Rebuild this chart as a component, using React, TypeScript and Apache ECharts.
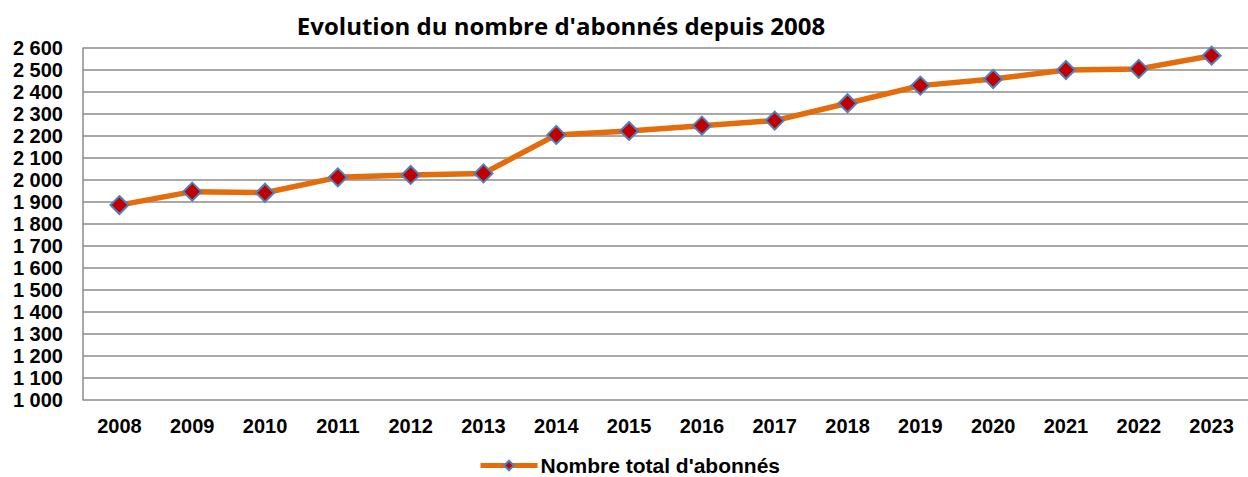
import React, { useEffect, useRef } from "react";
import * as echarts from "echarts";

const years = ["2008","2009","2010","2011","2012","2013","2014","2015","2016","2017","2018","2019","2020","2021","2022","2023"];
const subscribers = [1886, 1947, 1942, 2012, 2023, 2030, 2205, 2223, 2247, 2270, 2349, 2429, 2459, 2500, 2505, 2565];
const seriesName = "Nombre total d'abonnés";
const titleText = "Evolution du nombre d'abonnés depuis 2008";

export default function App() {
  const ref = useRef<HTMLDivElement>(null);
  useEffect(() => {
    if (!ref.current) return;
    const chart = echarts.init(ref.current, null, { renderer: "svg" });
    chart.setOption({
      animation: false,
      backgroundColor: "#ffffff",
      title: {
        text: titleText,
        left: 556,
        top: 8,
        textAlign: "center",
        textStyle: { fontFamily: "Open Sans", fontWeight: "bold", fontSize: 24, color: "#000" },
      },
      legend: {
        data: [seriesName],
        top: 455,
        left: 478,
        padding: 0,
        itemWidth: 57,
        itemHeight: 12,
        itemGap: 4,
        lineStyle: { width: 5 },
        textStyle: { fontFamily: "Liberation Sans", fontWeight: "bold", fontSize: 21, color: "#000", padding: [0, 0, 0, -2] },
      },
      grid: { left: 83, top: 48, width: 1173, height: 352, containLabel: false },
      xAxis: {
        type: "category",
        data: years,
        boundaryGap: true,
        axisLine: { show: false },
        axisTick: { show: false },
        axisLabel: { fontFamily: "Liberation Sans", fontWeight: "bold", fontSize: 20, color: "#000", margin: 16 },
      },
      yAxis: {
        type: "value",
        min: 1000,
        max: 2600,
        interval: 100,
        axisLine: { show: true, lineStyle: { color: "#8c8c8c", width: 1.5 } },
        axisTick: { show: false },
        splitLine: { lineStyle: { color: "#8c8c8c", width: 1.5 } },
        axisLabel: {
          fontFamily: "Liberation Sans",
          fontWeight: "bold",
          fontSize: 20,
          color: "#000",
          margin: 20,
          formatter: (v: number) => {
            const s = String(v);
            return s.length > 3 ? s.slice(0, s.length - 3) + " " + s.slice(-3) : s;
          },
        },
      },
      series: [
        {
          name: seriesName,
          type: "line",
          data: subscribers,
          symbol: "diamond",
          symbolSize: 18,
          lineStyle: { color: "#E46C0A", width: 5.5 },
          itemStyle: { color: "#C00000", borderColor: "#4F81BD", borderWidth: 2 },
        },
      ],
    });
    return () => chart.dispose();
  }, []);
  return <div ref={ref} style={{ width: 1248, height: 477, position: "absolute", left: 0, top: 0 }} />;
}
